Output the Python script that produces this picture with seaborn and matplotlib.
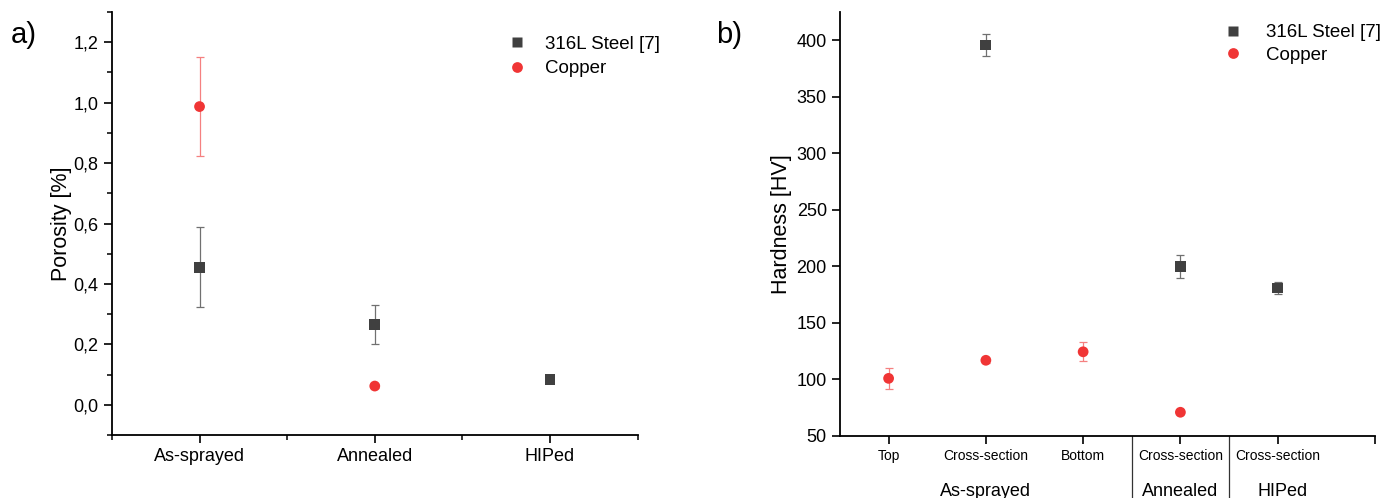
import numpy as np
import pandas as pd
import matplotlib.pyplot as plt
import seaborn as sns
from matplotlib.ticker import FuncFormatter, MultipleLocator, FixedLocator
from matplotlib.transforms import blended_transform_factory

# panel a) porosity
conditions = ["As-sprayed", "Annealed", "HIPed"]
steel_porosity = [0.455, 0.265, 0.083]
steel_porosity_err = [0.133, 0.065, 0.0]
copper_porosity = [0.987, 0.062, np.nan]
copper_porosity_err = [0.165, 0.008, np.nan]

# panel b) hardness
positions = ["Top", "Cross-section", "Bottom", "Cross-section", "Cross-section"]
groups = ["As-sprayed", "Annealed", "HIPed"]
group_of_position = [0, 0, 0, 1, 2]
steel_hardness = [np.nan, 396, np.nan, 200, 181]
steel_hardness_err = [np.nan, 10, np.nan, 10, 5]
copper_hardness = [101, 117, 124.5, 71, np.nan]
copper_hardness_err = [9, 2, 8.5, 1.5, np.nan]

materials = ["316L Steel [7]", "Copper"]
colors = {"316L Steel [7]": "#404040", "Copper": "#f03535"}
err_colors = {"316L Steel [7]": "#707070", "Copper": "#f58080"}
markers = {"316L Steel [7]": "s", "Copper": "o"}

sns.set_style("ticks")
plt.rcParams["font.family"] = ["Liberation Sans", "DejaVu Sans"]
plt.rcParams["text.color"] = "black"
plt.rcParams["axes.labelcolor"] = "black"


def long_table(n, steel, steel_err, copper, copper_err):
    rows = []
    for i in range(n):
        rows.append(dict(x=i, material=materials[0], value=steel[i], err=steel_err[i]))
        rows.append(dict(x=i, material=materials[1], value=copper[i], err=copper_err[i]))
    return pd.DataFrame(rows).dropna(subset=["value"])


def draw(ax, df):
    for m in materials:
        d = df[df["material"] == m]
        ax.errorbar(d["x"], d["value"], yerr=d["err"], fmt="none",
                    ecolor=err_colors[m], elinewidth=0.9, capsize=3, capthick=0.9, zorder=1)
    sns.scatterplot(data=df, x="x", y="value", hue="material", style="material",
                    hue_order=materials, style_order=materials,
                    palette=colors, markers=markers, s=60, edgecolor="none",
                    ax=ax, zorder=3)
    sns.despine(ax=ax)
    for sp in ax.spines.values():
        sp.set_linewidth(1.3)
        sp.set_color("black")
    ax.tick_params(axis="both", which="major", direction="out", length=6, width=1.2,
                   labelsize=13, colors="black")
    ax.tick_params(axis="both", which="minor", direction="out", length=3.5, width=1.1,
                   colors="black")
    ax.set_xlabel("")


fig = plt.figure(figsize=(13.87, 4.98), dpi=100)
ax1 = fig.add_axes([0.0807, 0.1265, 0.379, 0.8494])
ax2 = fig.add_axes([0.6056, 0.1245, 0.3857, 0.851])

# a)
df1 = long_table(len(conditions), steel_porosity, steel_porosity_err, copper_porosity, copper_porosity_err)
draw(ax1, df1)
ax1.set_xlim(-0.5, 2.5)
ax1.set_ylim(-0.1, 1.3)
ax1.set_xticks(range(len(conditions)))
ax1.set_xticklabels(conditions)
ax1.xaxis.set_minor_locator(FixedLocator([-0.5, 0.5, 1.5, 2.5]))
ax1.yaxis.set_major_locator(FixedLocator([0, 0.2, 0.4, 0.6, 0.8, 1.0, 1.2]))
ax1.yaxis.set_minor_locator(MultipleLocator(0.1))
ax1.yaxis.set_major_formatter(FuncFormatter(lambda v, p: f"{v:.1f}".replace(".", ",")))
ax1.set_ylabel("Porosity [%]", fontsize=15.5, labelpad=1)
ax1.legend(loc="upper left", bbox_to_anchor=(0.72, 0.962), frameon=False, fontsize=13.5,
           handletextpad=0.5, borderaxespad=0, labelspacing=0.4)

# b)
df2 = long_table(len(positions), steel_hardness, steel_hardness_err, copper_hardness, copper_hardness_err)
draw(ax2, df2)
ax2.set_xlim(-0.5, 5.0)
ax2.set_ylim(50, 425)
ax2.set_xticks(range(len(positions)))
ax2.set_xticklabels(positions, fontsize=10)
ax2.xaxis.set_minor_locator(FixedLocator([5.0]))
ax2.tick_params(axis="x", which="minor", length=6, width=1.2)
ax2.yaxis.set_major_locator(MultipleLocator(50))
ax2.set_ylabel("Hardness [HV]", fontsize=15.5, labelpad=3)
ax2.legend(loc="upper left", bbox_to_anchor=(0.685, 0.99), frameon=False, fontsize=13.5,
           handletextpad=0.8, borderaxespad=0, labelspacing=0.3)

trans = blended_transform_factory(ax2.transData, ax2.transAxes)
for g, name in enumerate(groups):
    idx = [i for i, k in enumerate(group_of_position) if k == g]
    ax2.text(np.mean(idx) if g != 2 else np.mean(idx) + 0.05, -0.13, name, transform=trans,
             ha="center", va="center", fontsize=13)
for b in [2.5, 3.5]:
    ax2.plot([b, b], [0, -0.16], transform=trans, color="#333333", lw=0.9, clip_on=False)

fig.text(0.008, 0.93, "a)", fontsize=21, va="center")
fig.text(0.516, 0.93, "b)", fontsize=21, va="center")

fig.savefig("out.png", dpi=100)
